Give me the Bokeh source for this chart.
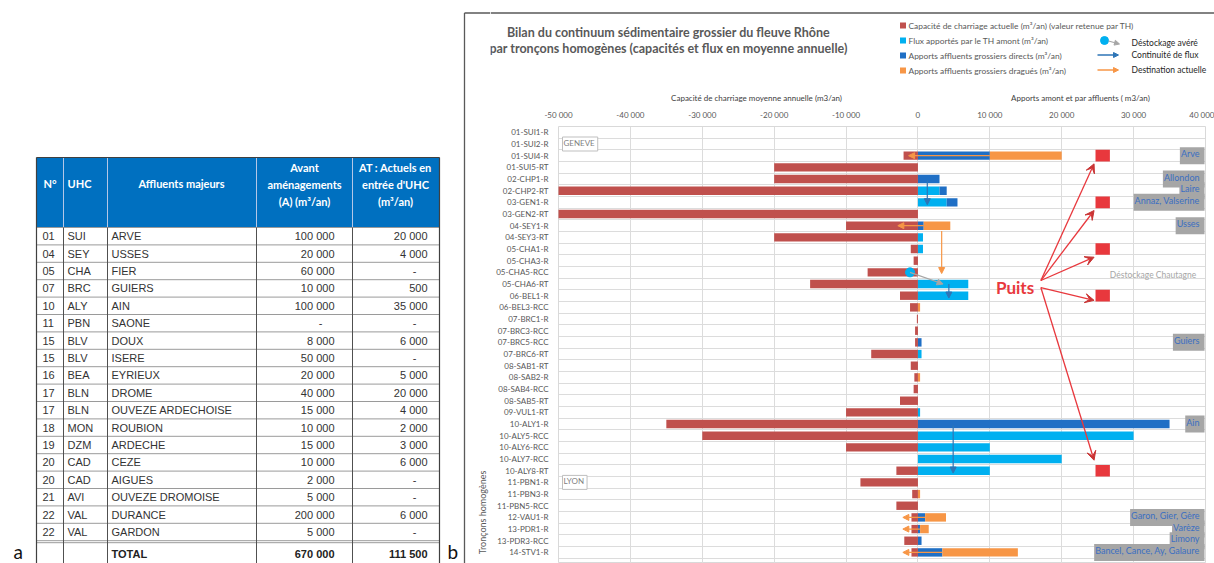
import numpy as np
from bokeh.plotting import figure
from bokeh.models import (Range1d, FixedTicker, CustomJSTickFormatter, Arrow,
                          NormalHead, VeeHead, ColumnDataSource)
from bokeh.layouts import row, column
from bokeh.embed import file_html
from bokeh.resources import INLINE
from bokeh.core.properties import value

# ------------------------------------------------------------------ table data (a)
tbl_num = ["01", "04", "05", "07", "10", "11", "15", "15", "16", "17", "17", "18",
           "19", "20", "20", "21", "22", "22"]
tbl_uhc = ["SUI", "SEY", "CHA", "BRC", "ALY", "PBN", "BLV", "BLV", "BEA", "BLN", "BLN",
           "MON", "DZM", "CAD", "CAD", "AVI", "VAL", "VAL"]
tbl_affluents = ["ARVE", "USSES", "FIER", "GUIERS", "AIN", "SAONE", "DOUX", "ISERE",
                 "EYRIEUX", "DROME", "OUVEZE ARDECHOISE", "ROUBION", "ARDECHE", "CEZE",
                 "AIGUES", "OUVEZE DROMOISE", "DURANCE", "GARDON"]
tbl_avant = [100000, 20000, 60000, 10000, 100000, None, 8000, 50000, 20000, 40000,
             15000, 10000, 15000, 10000, 2000, 5000, 200000, 5000]
tbl_actuels = [20000, 4000, None, 500, 35000, None, 6000, None, 5000, 20000, 4000,
               2000, 3000, 6000, None, None, 6000, None]
tbl_header = ["N°", "UHC", "Affluents majeurs"]
tbl_header_avant = ["Avant", "aménagements", "(A) (m³/an)"]
tbl_header_actuels = ["AT : Actuels en", "entrée d'UHC", "(m³/an)"]

# ------------------------------------------------------------------ chart data (b)
sections = ["01-SUI1-R", "01-SUI2-R", "01-SUI4-R", "01-SUI5-RT", "02-CHP1-R",
            "02-CHP2-RT", "03-GEN1-R", "03-GEN2-RT", "04-SEY1-R", "04-SEY3-RT",
            "05-CHA1-R", "05-CHA3-R", "05-CHA5-RCC", "05-CHA6-RT", "06-BEL1-R",
            "06-BEL3-RCC", "07-BRC1-R", "07-BRC3-RCC", "07-BRC5-RCC", "07-BRC6-RT",
            "08-SAB1-RT", "08-SAB2-R", "08-SAB4-RCC", "08-SAB5-RT", "09-VUL1-RT",
            "10-ALY1-R", "10-ALY5-RCC", "10-ALY6-RCC", "10-ALY7-RCC", "10-ALY8-RT",
            "11-PBN1-R", "11-PBN3-R", "11-PBN5-RCC", "12-VAU1-R", "13-PDR1-R",
            "13-PDR3-RCC", "14-STV1-R"]
capacite = [0, 0, -2000, -20000, -20000, -60000, 0, -60000, -10000, -20000,
            -1000, -600, -7000, -15000, -2500, -1100, -150, -400, -400, -6500,
            -1000, -500, -600, -2500, -10000, -35000, -30000, -10000, 0, -3000,
            -8000, -800, -3000, -900, -900, -1900, -900]
flux_amont = [0, 0, 0, 0, 0, 3000, 4000, 0, 0, 700,
              700, 0, 0, 7000, 7000, 0, 0, 0, 0, 500,
              0, 0, 0, 0, 300, 0, 30000, 10000, 20000, 10000,
              0, 0, 0, 0, 0, 0, 0]
apports_directs = [0, 0, 10000, 0, 3000, 1000, 1500, 0, 800, 0,
                   0, 0, 0, 0, 0, 0, 0, 0, 500, 0,
                   0, 0, 0, 0, 0, 35000, 0, 0, 0, 0,
                   0, 0, 0, 1000, 300, 500, 3400]
apports_dragues = [0, 0, 10000, 0, 0, 0, 0, 0, 3700, 0,
                   0, 0, 0, 0, 0, 300, 0, 0, 0, 0,
                   0, 300, 0, 0, 0, 0, 0, 0, 0, 0,
                   0, 300, 0, 2900, 1200, 0, 10500]
x_ticks = [-50000, -40000, -30000, -20000, -10000, 0, 10000, 20000, 30000, 40000]

affluent_rows = [2, 4, 5, 6, 8, 18, 25, 33, 34, 35, 36]
affluent_names = ["Arve", "Allondon", "Laire", "Annaz, Valserine", "Usses", "Guiers",
                  "Ain", "Garon, Gier, Gère", "Varèze", "Limony",
                  "Bancel, Cance, Ay, Galaure"]
ville_rows = [1, 30]
ville_names = ["GENEVE", "LYON"]

# destination actuelle (orange arrows, pointing left)
dest_rows = [2, 8, 33, 34, 36]
dest_end = [-1300, -2800, -2100, -2100, -2100]
# continuité de flux (blue arrows)
cont_x = [1300, 4300, 4900]
cont_from = [4.1, 13.0, 25.1]
cont_to = [6.2, 14.2, 29.2]
# déstockage avéré
destock_x0, destock_row0 = -1100, 12.0
destock_x1, destock_row1 = 3500, 13.0
# orange transfer SEY -> CHA
transfer_x, transfer_from, transfer_to = 3300, 8.45, 12.1
# puits
puits_rows = [2, 6, 10, 14, 29]
puits_x = 25700
puits_tip_dy = [0.7, 0.7, 0.7, 0.4, -0.9]
puits_origin_y = [12.7, 12.7, 12.7, 13.3, 13.3]

legend_labels = ["Capacité de charriage actuelle (m³/an) (valeur retenue par TH)",
                 "Flux apportés par le TH amont (m³/an)",
                 "Apports affluents grossiers directs (m³/an)",
                 "Apports affluents grossiers dragués (m³/an)"]
legend2_labels = ["Déstockage avéré", "Continuité de flux", "Destination actuelle"]

RED, LBLUE, DBLUE, ORANGE = "#c0504d", "#00b0f0", "#1f6fc5", "#f79646"
ARROW_BLUE = "#2e75b6"
PUITS_RED = "#e8383d"
FONT = value("Lato")


def fmt(v):
    return f"{v:,}".replace(",", " ")


# ================================================================== table figure
t = figure(width=490, height=563, x_range=Range1d(0, 490), y_range=Range1d(563, 0),
           output_backend="svg", toolbar_location=None, min_border=0,
           x_axis_location=None, y_axis_location=None, outline_line_color=None,
           background_fill_color="white", border_fill_color="white")
t.grid.visible = False

edges = [36, 63, 107, 256, 352, 439]
h_top, h_bot, row_h = 157, 227, 17.4
n_rows = len(tbl_num)
row_c = [h_bot + row_h * (k + 0.5) for k in range(n_rows)]
tot_top = h_bot + row_h * n_rows
tot_c = tot_top + 13

t.quad(left=edges[0], right=edges[-1], top=h_top, bottom=h_bot,
       fill_color="#0070c0", line_color=None)
t.segment(x0=edges[1:-1], y0=h_top, x1=edges[1:-1], y1=h_bot, line_color="#b4c7e7",
          line_width=1)
hl = [h_bot + row_h * k for k in range(n_rows + 1)]
t.segment(x0=edges[0], y0=hl, x1=edges[-1], y1=hl, line_color="#9a9a9a", line_width=1)
t.segment(x0=edges[0], y0=tot_top + 2, x1=edges[-1], y1=tot_top + 2,
          line_color="#9a9a9a", line_width=1)
t.segment(x0=edges[1:-1], y0=h_bot, x1=edges[1:-1], y1=563, line_color="#505050",
          line_width=1)
t.segment(x0=[edges[0], edges[-1]], y0=h_top, x1=[edges[0], edges[-1]], y1=563,
          line_color="#404040", line_width=1.2)
t.segment(x0=edges[0], y0=h_top, x1=edges[-1], y1=h_top, line_color="#404040",
          line_width=1.2)

hdr_kw = dict(text_font=FONT, text_font_style="bold", text_font_size="11px",
              text_color="white", text_baseline="middle")
t.text(x=[43, 67], y=183, text=tbl_header[:2], text_align="left", **hdr_kw)
t.text(x=181, y=183, text=[tbl_header[2]], text_align="center", **hdr_kw)
t.text(x=304, y=[167, 184, 201], text=tbl_header_avant, text_align="center", **hdr_kw)
t.text(x=395, y=[167, 184, 201], text=tbl_header_actuels, text_align="center", **hdr_kw)

body_kw = dict(text_font=value("Liberation Sans"), text_font_size="11px",
               text_color="#333333", text_baseline="middle")
t.text(x=42, y=row_c, text=tbl_num, text_align="left", **body_kw)
t.text(x=67, y=row_c, text=tbl_uhc, text_align="left", **body_kw)
t.text(x=111, y=row_c, text=tbl_affluents, text_align="left", **body_kw)
for col, xr, xd in ((tbl_avant, 334, 322), (tbl_actuels, 427, 416)):
    txt = [fmt(v) if v is not None else "-" for v in col]
    xs = [xr if v is not None else xd for v in col]
    t.text(x=xs, y=row_c, text=txt, text_align="right", **body_kw)

tot_kw = dict(body_kw, text_font_style="bold", text_color="#222222")
t.text(x=111, y=tot_c, text=["TOTAL"], text_align="left", **tot_kw)
t.text(x=[334, 427], y=tot_c,
       text=[fmt(sum(v for v in tbl_avant if v)), fmt(sum(v for v in tbl_actuels if v))],
       text_align="right", **tot_kw)

t.text(x=[13, 447], y=551, text=["a", "b"], text_font=FONT, text_font_size="19px",
       text_color="#111111", text_baseline="middle", text_align="left")
# chart frame border (left + top)
t.segment(x0=464, y0=12.5, x1=464, y1=563, line_color="#595959", line_width=1.3)
t.segment(x0=464, y0=12.5, x1=490, y1=12.5, line_color="#595959", line_width=1.3)
t.text(x=482, y=512, text=["Tronçons homogènes"], angle=np.pi / 2, text_font=FONT,
       text_font_size="9px", text_color="#595959", text_align="center",
       text_baseline="middle")

# ================================================================== header figure
h = figure(width=724, height=104, x_range=Range1d(490, 1214), y_range=Range1d(104, 0),
           output_backend="svg", toolbar_location=None, min_border=0,
           x_axis_location=None, y_axis_location=None, outline_line_color=None)
h.grid.visible = False
h.segment(x0=490, y0=12.5, x1=1214, y1=12.5, line_color="#595959", line_width=1.3)
h.text(x=668, y=[32, 48],
       text=["Bilan du continuum sédimentaire grossier du fleuve Rhône",
             "par tronçons homogènes (capacités et flux en moyenne annuelle)"],
       text_align="center", text_baseline="middle", text_font=FONT,
       text_font_style="bold", text_font_size="12.5px", text_color="#595959")
leg_y = [25, 40, 55, 70]
h.rect(x=902.5, y=leg_y, width=6, height=6, fill_color=[RED, LBLUE, DBLUE, ORANGE],
       line_color=None)
h.text(x=908, y=leg_y, text=legend_labels, text_font=FONT, text_font_size="8.4px",
       text_color="#595959", text_baseline="middle", text_align="left")
h.scatter(x=1104, y=40, size=8, color=LBLUE)
h.add_layout(Arrow(x_start=1108, y_start=40.5, x_end=1119, y_end=43.5,
                   line_color="#a6a6a6", line_width=1.2,
                   end=NormalHead(size=5, fill_color="#a6a6a6", line_color="#a6a6a6")))
h.add_layout(Arrow(x_start=1097, y_start=54.5, x_end=1118, y_end=54.5,
                   line_color=ARROW_BLUE, line_width=1.3,
                   end=NormalHead(size=5, fill_color=ARROW_BLUE, line_color=ARROW_BLUE)))
h.add_layout(Arrow(x_start=1097, y_start=69.5, x_end=1118, y_end=69.5,
                   line_color=ORANGE, line_width=1.3,
                   end=NormalHead(size=5, fill_color=ORANGE, line_color=ORANGE)))
h.text(x=1131, y=[42, 54.5, 69.5], text=legend2_labels, text_font=FONT,
       text_font_size="8.5px", text_color="#262626", text_baseline="middle",
       text_align="left")
h.text(x=[756, 1080], y=97.5,
       text=["Capacité de charriage moyenne annuelle (m3/an)",
             "Apports amont et par affluents ( m3/an)"],
       text_font=FONT, text_font_size="8px", text_color="#404040",
       text_baseline="middle", text_align="center")

# ================================================================== main chart
n = len(sections)
p = figure(width=724, height=459, x_range=Range1d(x_ticks[0], x_ticks[-1]),
           y_range=Range1d(n - 0.05, -0.5), x_axis_location="above",
           output_backend="svg", toolbar_location=None,
           min_border_left=68, min_border_right=9, min_border_top=22,
           min_border_bottom=0, outline_line_color="#d9d9d9",
           background_fill_color="white", border_fill_color="white")

p.xaxis.ticker = FixedTicker(ticks=x_ticks)
p.xaxis.formatter = CustomJSTickFormatter(code="""
const s = Math.abs(tick).toFixed(0).replace(/\\B(?=(\\d{3})+(?!\\d))/g, " ");
return (tick < 0 ? "-" : "") + s;
""")
p.yaxis.ticker = FixedTicker(ticks=list(range(n)))
p.yaxis.major_label_overrides = {i: s for i, s in enumerate(sections)}
for ax in (p.xaxis, p.yaxis):
    ax.axis_line_color = None
    ax.major_tick_line_color = None
    ax.minor_tick_line_color = None
    ax.major_label_text_font = "Lato"
    ax.major_label_text_color = "#595959"
p.xaxis.major_label_text_font_size = "8px"
p.yaxis.major_label_text_font_size = "8px"
p.xaxis.major_label_standoff = 1
p.yaxis.major_label_standoff = 4
p.xgrid.ticker = FixedTicker(ticks=x_ticks)
p.ygrid.ticker = FixedTicker(ticks=[i + 0.5 for i in range(-1, n)])
p.grid.grid_line_color = "#dcdcdc"
p.grid.grid_line_width = 1

y = np.arange(n)
cap = np.array(capacite)
lb = np.array(flux_amont)
db = np.array(apports_directs)
ob = np.array(apports_dragues)
bh = 0.72
p.hbar(y=y, left=0, right=cap, height=bh, fill_color=RED, line_color=None)
p.hbar(y=y, left=0, right=lb, height=bh, fill_color=LBLUE, line_color=None)
p.hbar(y=y, left=lb, right=lb + db, height=bh, fill_color=DBLUE, line_color=None)
p.hbar(y=y, left=lb + db, right=lb + db + ob, height=bh, fill_color=ORANGE,
       line_color=None)

# right-hand affluent labels
p.text(x=x_ticks[-1], y=affluent_rows, text=affluent_names, x_offset=-1,
       text_align="right", text_baseline="middle", text_font=FONT,
       text_font_size="9px", text_color="#3b6fc2",
       background_fill_color="#a6a6a6", padding=(1, 5, 1, 5))
p.text(x=x_ticks[0], y=ville_rows, text=ville_names, x_offset=4,
       text_align="left", text_baseline="middle", text_font=FONT,
       text_font_size="8px", text_color="#7f7f7f",
       background_fill_color="white", border_line_color="#bfbfbf",
       padding=(1, 3, 1, 3))
p.text(x=38700, y=12.2, text=["Déstockage Chautagne"], text_align="right",
       text_baseline="middle", text_font=FONT, text_font_size="8.5px",
       text_color="#a6a6a6")

# orange destination arrows
dest_src = ColumnDataSource(dict(
    x0=(lb + db)[dest_rows], y0=dest_rows, x1=dest_end, y1=dest_rows))
p.add_layout(Arrow(x_start="x0", y_start="y0", x_end="x1", y_end="y1", source=dest_src,
                   line_color=ORANGE, line_width=1.2,
                   end=NormalHead(size=6, fill_color=ORANGE, line_color=ORANGE)))
p.add_layout(Arrow(x_start=transfer_x, y_start=transfer_from, x_end=transfer_x,
                   y_end=transfer_to, line_color=ORANGE, line_width=1.2,
                   end=NormalHead(size=6, fill_color=ORANGE, line_color=ORANGE)))
# blue continuity arrows
cont_src = ColumnDataSource(dict(x=cont_x, y0=cont_from, y1=cont_to))
p.add_layout(Arrow(x_start="x", y_start="y0", x_end="x", y_end="y1", source=cont_src,
                   line_color=ARROW_BLUE, line_width=1.2,
                   end=NormalHead(size=6, fill_color=ARROW_BLUE, line_color=ARROW_BLUE)))
# destockage
p.add_layout(Arrow(x_start=destock_x0, y_start=destock_row0, x_end=destock_x1,
                   y_end=destock_row1, line_color="#a6a6a6", line_width=1.2,
                   end=NormalHead(size=6, fill_color="#a6a6a6", line_color="#a6a6a6")))
p.scatter(x=destock_x0, y=destock_row0, size=9, color=LBLUE)

# puits
p.rect(x=puits_x, y=puits_rows, width=2000, height=1.0, fill_color=PUITS_RED,
       line_color=None)
puits_src = ColumnDataSource(dict(
    x0=[17100] * len(puits_rows), y0=puits_origin_y,
    x1=[puits_x - 1200] * len(puits_rows),
    y1=list(np.array(puits_rows) + np.array(puits_tip_dy))))
p.add_layout(Arrow(x_start="x0", y_start="y0", x_end="x1", y_end="y1",
                   source=puits_src, line_color=PUITS_RED, line_width=1.3,
                   end=VeeHead(size=9, fill_color="#c93434", line_color="#c93434")))
p.text(x=10850, y=13.3, text=["Puits"], text_font=FONT, text_font_style="bold",
       text_font_size="17px", text_color=PUITS_RED, text_baseline="middle",
       text_align="left")

layout = row(t, column(row(h), p))
open("out.html", "w", encoding="utf-8").write(file_html(layout, INLINE, title="Bilan"))
